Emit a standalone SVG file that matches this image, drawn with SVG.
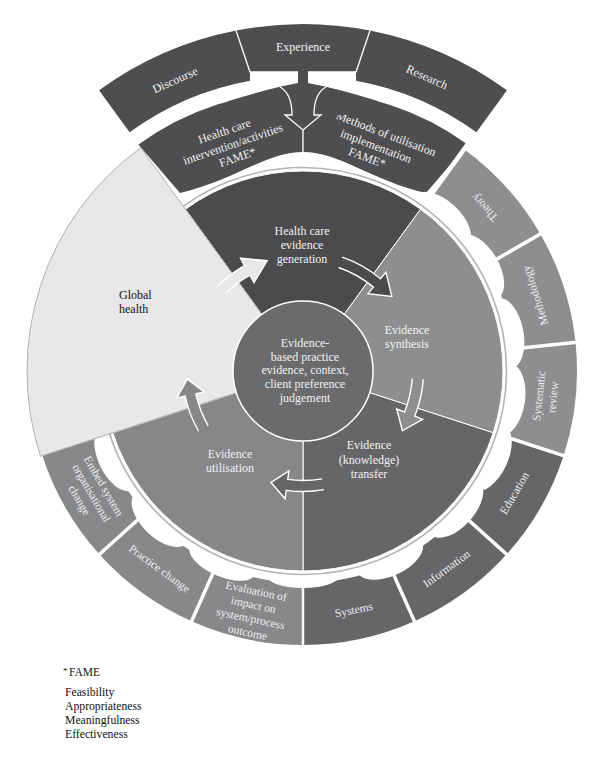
<svg xmlns="http://www.w3.org/2000/svg" width="600" height="761" viewBox="0 0 600 761">
<style>
text{font-family:"Liberation Serif","DejaVu Serif",serif;}
.lt{fill:#f0f0f0;font-size:12px;text-anchor:middle;}
.rt{fill:#eeeeee;font-size:11.5px;text-anchor:middle;}
.dk{fill:#111;font-size:12px;}
.band{fill:#4e4e50;}
.olight{fill:#8e8e91;}
.odark{fill:#666669;}
.omed{fill:#88888b;}
.sep{stroke:#fff;stroke-width:3.5;}
.wl{stroke:#fff;stroke-width:1.3;fill:none;}
.bump{fill:#fff;}
.arr{stroke:#fff;stroke-width:1.4;fill:none;}
</style>
<rect width="600" height="761" fill="#fff"/>

<!-- outer top band -->
<g id="discourse"><path class="band" d="M99.04,90.27 A347 347 0 0 1 236,30.5 L250,72 L250,80.8 A295 295 0 0 0 129.6,132.34 Z"/>
<text class="lt" transform="translate(175,80) rotate(-24)" x="0" y="4">Discourse</text></g>
<g id="experience"><path class="band" d="M236,30.5 A347 347 0 0 1 370,30.5 L356,72 L250,72 Z"/>
<text class="lt" x="303" y="51">Experience</text></g>
<g id="research"><path class="band" d="M370,30.5 A347 347 0 0 1 506.96,90.27 L476.4,132.34 A295 295 0 0 0 356,80.8 L356,72 Z"/>
<text class="lt" transform="translate(427,77) rotate(24)" x="0" y="4">Research</text></g>

<!-- second band top segments -->
<g id="healthcare-intervention"><path class="band" d="M138.42,144.47 A280 280 0 0 1 303,91 L303,152 C266,152 236,180 180,193 Z"/>
<text class="lt" transform="translate(233,144) rotate(-19)"><tspan x="-4" y="-11">Health care</tspan><tspan x="0" y="4">intervention/activities</tspan><tspan x="0" y="18">FAME*</tspan></text></g>
<g id="methods-utilisation"><path class="band" d="M303,91 A280 280 0 0 1 467.58,144.47 L426,193 C370,180 340,152 303,152 Z"/>
<text class="lt" transform="translate(376,146) rotate(21)"><tspan x="5" y="-11">Methods of utilisation</tspan><tspan x="0" y="4">implementation</tspan><tspan x="-4" y="18">FAME*</tspan></text></g>

<!-- outer ring segments -->
<g id="theory"><path class="olight" d="M464.05,149.33 A274 274 0 0 1 540.29,234 L486.6,265 A212 212 0 0 0 427.61,199.49 Z"/></g>
<g id="methodology"><path class="olight" d="M540.29,234 A274 274 0 0 1 575.5,342.36 L513.84,348.84 A212 212 0 0 0 486.6,265 Z"/></g>
<g id="systematic-review"><path class="olight" d="M575.5,342.36 A274 274 0 0 1 563.59,455.67 L504.62,436.51 A212 212 0 0 0 513.84,348.84 Z"/></g>
<g id="education"><path class="odark" d="M563.59,455.67 A274 274 0 0 1 506.62,554.34 L460.55,512.86 A212 212 0 0 0 504.62,436.51 Z"/></g>
<g id="information"><path class="odark" d="M506.62,554.34 A274 274 0 0 1 414.45,621.31 L389.23,564.67 A212 212 0 0 0 460.55,512.86 Z"/></g>
<g id="systems"><path class="odark" d="M414.45,621.31 A274 274 0 0 1 303,645 L303,583 A212 212 0 0 0 389.23,564.67 Z"/></g>
<g id="evaluation"><path class="omed" d="M303,645 A274 274 0 0 1 191.55,621.31 L216.77,564.67 A212 212 0 0 0 303,583 Z"/></g>
<g id="practice-change"><path class="omed" d="M191.55,621.31 A274 274 0 0 1 99.38,554.34 L145.45,512.86 A212 212 0 0 0 216.77,564.67 Z"/></g>
<g id="embed-system"><path class="omed" d="M99.38,554.34 A274 274 0 0 1 42.41,455.67 L101.38,436.51 A212 212 0 0 0 145.45,512.86 Z"/></g>

<!-- scalloped inner edge of outer ring -->
<g id="scallops">
<ellipse class="bump" cx="508" cy="371" rx="19" ry="36" transform="rotate(-47.5 303 371)"/>
<ellipse class="bump" cx="508" cy="371" rx="19" ry="36" transform="rotate(-30.5 303 371)"/>
<ellipse class="bump" cx="508" cy="371" rx="19" ry="36" transform="rotate(-10.5 303 371)"/>
<ellipse class="bump" cx="508" cy="371" rx="19" ry="36" transform="rotate(8 303 371)"/>
<ellipse class="bump" cx="508" cy="371" rx="19" ry="36" transform="rotate(25 303 371)"/>
<ellipse class="bump" cx="508" cy="371" rx="19" ry="36" transform="rotate(42 303 371)"/>
<ellipse class="bump" cx="508" cy="371" rx="19" ry="36" transform="rotate(65 303 371)"/>
<ellipse class="bump" cx="506" cy="371" rx="14" ry="38" transform="rotate(90 303 371)"/>
<ellipse class="bump" cx="508" cy="371" rx="17" ry="36" transform="rotate(113 303 371)"/>
<ellipse class="bump" cx="508" cy="371" rx="19" ry="36" transform="rotate(134 303 371)"/>
<ellipse class="bump" cx="508" cy="371" rx="19" ry="36" transform="rotate(155 303 371)"/>
</g>

<!-- connectors: separators and arrows -->
<g id="connectors">
<g id="separators">
<line class="sep" x1="508" y1="371" x2="588" y2="371" transform="rotate(-54 303 371)" style="stroke-width:4.5"/>
<line class="sep" x1="508" y1="371" x2="585" y2="371" transform="rotate(-30 303 371)"/>
<line class="sep" x1="508" y1="371" x2="585" y2="371" transform="rotate(-6 303 371)"/>
<line class="sep" x1="508" y1="371" x2="585" y2="371" transform="rotate(18 303 371)"/>
<line class="sep" x1="508" y1="371" x2="585" y2="371" transform="rotate(42 303 371)"/>
<line class="sep" x1="508" y1="371" x2="585" y2="371" transform="rotate(66 303 371)"/>
<line class="sep" x1="508" y1="371" x2="585" y2="371" transform="rotate(90 303 371)" style="stroke-width:2.5"/>
<line class="sep" x1="508" y1="371" x2="585" y2="371" transform="rotate(114 303 371)"/>
<line class="sep" x1="508" y1="371" x2="585" y2="371" transform="rotate(138 303 371)"/>
</g>
<g id="converging-arrow">
<path class="band" d="M228,101.2 Q270,88 298,83 L298,72 L308,72 L308,83 Q336,88 378,101.2 L378,115 L228,115 Z"/>
<path class="wl" d="M236,30.5 L250,72 L298,72 M370,30.5 L356,72 L308,72"/>
<path class="wl" d="M280,87 C289,92 292,103 292,115 L285,115 L303,130 L321,115 L314,115 C314,103 317,92 326,87 M303,130 L303,152"/>
</g>
</g>

<!-- grey ring -->
<circle cx="303" cy="371" r="203.5" fill="none" stroke="#b5b5b7" stroke-width="1.6"/>

<!-- inner sectors -->
<g id="evidence-generation"><path fill="#4b4b4d" stroke="#fff" stroke-width="1" d="M303,371 L185.44,209.2 A200 200 0 0 1 420.56,209.2 Z"/></g>
<g id="evidence-synthesis"><path fill="#8e8e91" stroke="#fff" stroke-width="1" d="M303,371 L420.56,209.2 A200 200 0 0 1 493.21,432.8 Z"/></g>
<g id="evidence-transfer"><path fill="#666669" stroke="#fff" stroke-width="1" d="M303,371 L493.21,432.8 A200 200 0 0 1 303,571 Z"/></g>
<g id="evidence-utilisation"><path fill="#87878a" stroke="#fff" stroke-width="1" d="M303,371 L303,571 A200 200 0 0 1 112.79,432.8 Z"/></g>
<g id="global-health"><path fill="#e8e8ea" stroke="#b0b0b2" stroke-width="1" d="M303,371 L140.77,147.71 A276 276 0 0 0 40.51,456.29 Z"/>
<text class="dk" x="119" y="299">Global</text><text class="dk" x="119" y="313">health</text></g>

<!-- cycle arrows -->
<g id="cycle-arrows">
<path fill="#e8e8ea" d="M217.79,285.79 A120.5 120.5 0 0 1 244.58,265.61 L240.46,258.17 L267.15,260.68 L254.03,282.66 L249.91,275.23 A109.5 109.5 0 0 0 225.57,293.57 Z"/>
<path class="arr" d="M217.79,285.79 A120.5 120.5 0 0 1 244.58,265.61 L240.46,258.17 L267.15,260.68 L254.03,282.66 L249.91,275.23 A109.5 109.5 0 0 0 225.57,293.57"/>
<path fill="#4b4b4d" d="M342.23,257.06 A120.5 120.5 0 0 1 380.46,278.69 L385.92,272.18 L391.86,296.44 L367.92,293.63 L373.39,287.12 A109.5 109.5 0 0 0 338.65,267.47 Z"/>
<path class="arr" d="M342.23,257.06 A120.5 120.5 0 0 1 380.46,278.69 L385.92,272.18 L391.86,296.44 L367.92,293.63 L373.39,287.12 A109.5 109.5 0 0 0 338.65,267.47"/>
<path fill="#8e8e91" d="M423.21,379.41 A120.5 120.5 0 0 1 414.73,416.14 L422.61,419.32 L402.43,430.74 L396.65,408.84 L404.53,412.02 A109.5 109.5 0 0 0 412.23,378.64 Z"/>
<path class="arr" d="M423.21,379.41 A120.5 120.5 0 0 1 414.73,416.14 L422.61,419.32 L402.43,430.74 L396.65,408.84 L404.53,412.02 A109.5 109.5 0 0 0 412.23,378.64"/>
<path fill="#666669" d="M323.92,489.67 A120.5 120.5 0 0 1 286.23,490.33 L285.05,498.75 L271.03,482.51 L288.94,471.02 L287.76,479.43 A109.5 109.5 0 0 0 322.01,478.84 Z"/>
<path class="arr" d="M323.92,489.67 A120.5 120.5 0 0 1 286.23,490.33 L285.05,498.75 L271.03,482.51 L288.94,471.02 L287.76,479.43 A109.5 109.5 0 0 0 322.01,478.84"/>
<path fill="#87878a" d="M198.64,431.25 A120.5 120.5 0 0 1 185.13,396.05 L176.82,397.82 L187.28,379.09 L204.21,392 L195.89,393.77 A109.5 109.5 0 0 0 208.17,425.75 Z"/>
<path class="arr" d="M198.64,431.25 A120.5 120.5 0 0 1 185.13,396.05 L176.82,397.82 L187.28,379.09 L204.21,392 L195.89,393.77 A109.5 109.5 0 0 0 208.17,425.75"/>
</g>

<!-- central circle -->
<g id="evidence-based-practice">
<circle cx="303" cy="371" r="70" fill="#6b6b6d" stroke="#fff" stroke-width="1.5"/>
<text class="lt"><tspan x="305" y="347">Evidence-</tspan><tspan x="305" y="360.5">based practice</tspan><tspan x="305" y="374">evidence, context,</tspan><tspan x="305" y="388">client preference</tspan><tspan x="305" y="402">judgement</tspan></text>
</g>

<!-- inner sector labels -->
<text class="lt"><tspan x="302" y="235">Health care</tspan><tspan x="302" y="249">evidence</tspan><tspan x="302" y="263">generation</tspan></text>
<text class="lt"><tspan x="407" y="334">Evidence</tspan><tspan x="407" y="347.5">synthesis</tspan></text>
<text class="lt"><tspan x="369" y="449">Evidence</tspan><tspan x="369" y="463.5">(knowledge)</tspan><tspan x="369" y="478">transfer</tspan></text>
<text class="lt"><tspan x="230" y="458">Evidence</tspan><tspan x="230" y="472">utilisation</tspan></text>

<!-- outer ring labels -->
<text class="rt" transform="translate(484.3,207.7) rotate(-132)" x="0" y="4">Theory</text>
<text class="rt" transform="translate(535.1,295.6) rotate(-108)" x="0" y="4">Methodology</text>
<text class="rt" transform="translate(545.7,396.5) rotate(-84)"><tspan x="0" y="-3">Systematic</tspan><tspan x="0" y="11">review</tspan></text>
<text class="rt" transform="translate(514.3,493) rotate(-60)" x="0" y="4">Education</text>
<text class="rt" transform="translate(446.4,568.4) rotate(-36)" x="0" y="4">Information</text>
<text class="rt" transform="translate(353.7,609.7) rotate(-12)" x="0" y="4">Systems</text>
<text class="rt" transform="translate(252,611.5) rotate(12)"><tspan x="0" y="-17">Evaluation of</tspan><tspan x="0" y="-3">impact on</tspan><tspan x="0" y="11">system/process</tspan><tspan x="0" y="25">outcome</tspan></text>
<text class="rt" transform="translate(159.6,568.4) rotate(36)" x="0" y="4">Practice change</text>
<text class="rt" transform="translate(91.7,493) rotate(60)"><tspan x="0" y="-10">Embed system</tspan><tspan x="0" y="4">organisational</tspan><tspan x="0" y="18">change</tspan></text>

<!-- legend -->
<g id="legend">
<text class="dk" x="63" y="674" style="font-size:9px">*</text>
<text class="dk" x="69" y="676" style="font-size:11.5px">FAME</text>
<text class="dk" style="font-size:11.7px"><tspan x="65" y="695.5">Feasibility</tspan><tspan x="65" y="709.5">Appropriateness</tspan><tspan x="65" y="723.5">Meaningfulness</tspan><tspan x="65" y="737.5">Effectiveness</tspan></text>
</g>
</svg>
